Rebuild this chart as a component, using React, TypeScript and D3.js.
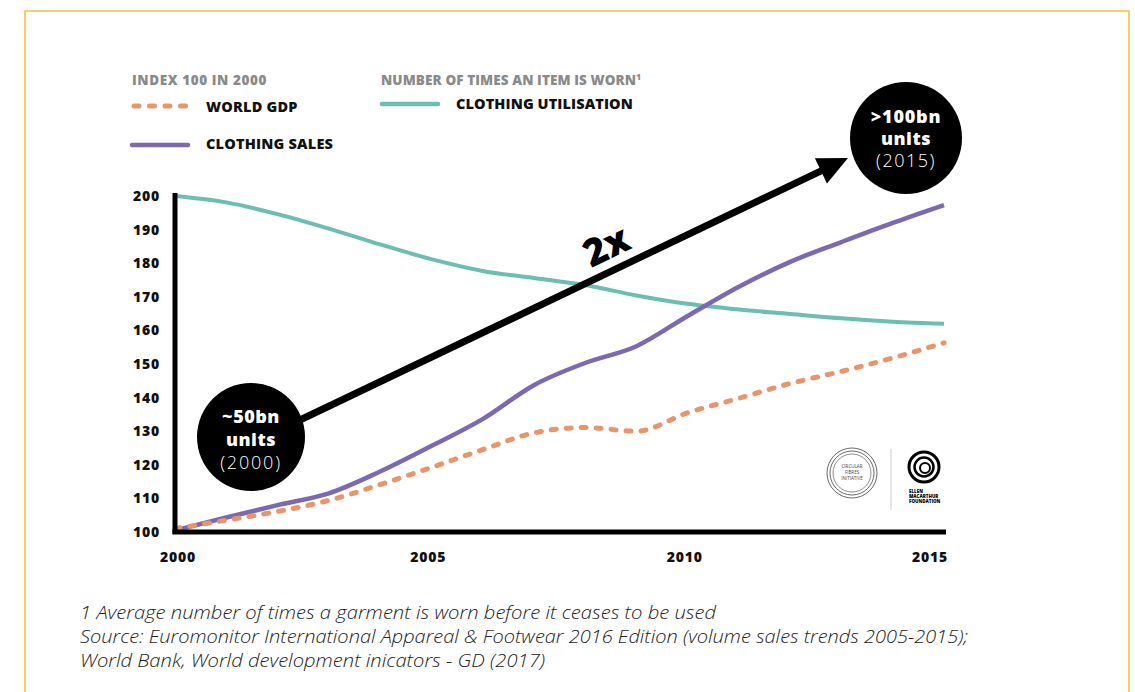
import React from "react";
import * as d3 from "d3";

const years = [2000, 2001, 2002, 2003, 2004, 2005, 2006, 2007, 2008, 2009, 2010, 2011, 2012, 2013, 2014, 2015];
const worldGdp = [101, 103.5, 106.1, 109.4, 114.1, 119.2, 124.5, 129.5, 131.1, 130, 135.5, 139.8, 144.2, 147.8, 151.8, 156.3];
const clothingSales = [100.5, 104.3, 108, 111.5, 118, 125.6, 133.6, 143.7, 150.3, 155.3, 164.3, 173, 180.4, 186.3, 192, 197.3];
const clothingUtilisation = [200, 198.1, 194.6, 190.3, 185.6, 181.2, 177.7, 175.6, 173.5, 170.4, 167.9, 166.2, 164.9, 163.6, 162.6, 162];
const yTicks = [100, 110, 120, 130, 140, 150, 160, 170, 180, 190, 200];
const xTicks = [2000, 2005, 2010, 2015];
const footnotes = [
  "1 Average number of times a garment is worn before it ceases to be used",
  "Source: Euromonitor International Appareal & Footwear 2016 Edition (volume sales trends 2005-2015);",
  "World Bank, World development inicators - GD (2017)",
];
const footnoteWidths = [636, 888, 465];

const ORANGE = "#e9956a";
const PURPLE = "#7b69b1";
const TEAL = "#6cbdb2";
const GOLD = "#f2c43e";
const FONT = "'Open Sans', 'DejaVu Sans', sans-serif";

export default function App() {
  const x = d3.scaleLinear().domain([2000, 2015]).range([175, 944]);
  const y = d3.scaleLinear().domain([100, 200]).range([532, 196]);
  const mk = (vals: number[]) =>
    d3
      .line<number>()
      .x((_, i) => x(years[i]))
      .y((d) => y(d))
      .curve(d3.curveMonotoneX)(vals) || "";

  const ax1 = { x: 300, y: 420 };
  const ax2 = { x: 832, y: 166 };
  const ang = Math.atan2(ax2.y - ax1.y, ax2.x - ax1.x);
  const tip = { x: 848, y: 158 };
  const headLen = 30;
  const headW = 14;
  const bx = tip.x - headLen * Math.cos(ang);
  const by = tip.y - headLen * Math.sin(ang);
  const px = -Math.sin(ang) * headW;
  const py = Math.cos(ang) * headW;

  return (
    <svg
      width={1135}
      height={692}
      style={{ position: "absolute", left: 0, top: 0, background: "#fff" }}
      fontFamily={FONT}
    >
      {/* frame */}
      <path d="M25,692 L25,11 L1129,11 L1129,692" fill="none" stroke={GOLD} strokeWidth={1.6} />

      {/* legend */}
      <text x={132} y={85} fontSize={13.5} fontWeight={800} fill="#8a8a8a" letterSpacing={0.6}>INDEX 100 IN 2000</text>
      <text x={381} y={85} fontSize={13.5} fontWeight={800} fill="#8a8a8a" letterSpacing={0.1}>
        NUMBER OF TIMES AN ITEM IS WORN<tspan fontSize={8} dy={-5}>1</tspan>
      </text>
      <line x1={134} x2={186} y1={106} y2={106} stroke={ORANGE} strokeWidth={5} strokeLinecap="round" strokeDasharray="5 10.5" />
      <text x={206} y={112} fontSize={14.5} fontWeight={800} fill="#111" letterSpacing={0.2}>WORLD GDP</text>
      <line x1={132} x2={188} y1={145} y2={145} stroke={PURPLE} strokeWidth={4.5} strokeLinecap="round" />
      <text x={206} y={149} fontSize={14.5} fontWeight={800} fill="#111" letterSpacing={0.2}>CLOTHING SALES</text>
      <line x1={382} x2={438} y1={104} y2={104} stroke={TEAL} strokeWidth={4.5} strokeLinecap="round" />
      <text x={456} y={109} fontSize={14.5} fontWeight={800} fill="#111" letterSpacing={0.1}>CLOTHING UTILISATION</text>

      {/* y ticks */}
      {yTicks.map((t) => (
        <text key={t} x={160} y={y(t) + 5} fontSize={14} fontWeight={800} textAnchor="end" fill="#111" letterSpacing={0.8}>
          {t}
        </text>
      ))}
      {/* x ticks */}
      {xTicks.map((t, i) => (
        <text
          key={t}
          x={x(t) + (i === 0 ? 3 : i === xTicks.length - 1 ? -14 : -3)}
          y={562}
          fontSize={14}
          fontWeight={800}
          textAnchor="middle"
          fill="#111"
          letterSpacing={0.8}
        >
          {t}
        </text>
      ))}

      {/* series */}
      <path d={mk(clothingUtilisation)} fill="none" stroke={TEAL} strokeWidth={4} strokeLinejoin="round" />
      <path d={mk(clothingSales)} fill="none" stroke={PURPLE} strokeWidth={4.5} strokeLinejoin="round" />
      <path d={mk(worldGdp)} fill="none" stroke={ORANGE} strokeWidth={5} strokeLinecap="round" strokeDasharray="5 10" />

      {/* axes */}
      <line x1={175} x2={175} y1={193} y2={534} stroke="#000" strokeWidth={5} />
      <line x1={172.5} x2={946} y1={532} y2={532} stroke="#000" strokeWidth={5} />

      {/* arrow */}
      <line x1={ax1.x} y1={ax1.y} x2={bx + 2 * Math.cos(ang)} y2={by + 2 * Math.sin(ang)} stroke="#000" strokeWidth={7} />
      <polygon points={`${tip.x},${tip.y} ${bx + px},${by + py} ${bx - px},${by - py}`} fill="#000" />
      <text
        x={0}
        y={0}
        transform={`translate(612,258) rotate(${(ang * 180) / Math.PI})`}
        fontSize={38}
        fontWeight={800}
        textAnchor="middle"
        fill="#000"
      >
        2x
      </text>

      {/* bubbles */}
      <circle cx={251} cy={437} r={54} fill="#000" />
      <text x={251} y={423} fontSize={18} fontWeight={800} fill="#fff" textAnchor="middle" letterSpacing={0.5}>~50bn</text>
      <text x={251} y={446} fontSize={18} fontWeight={800} fill="#fff" textAnchor="middle" letterSpacing={0.5}>units</text>
      <text x={251} y={469} fontSize={18} fontWeight={300} fill="#fff" textAnchor="middle" letterSpacing={1.8}>(2000)</text>

      <circle cx={906} cy={138} r={56} fill="#000" />
      <text x={906} y={123} fontSize={18} fontWeight={800} fill="#fff" textAnchor="middle" letterSpacing={0.8}>&gt;100bn</text>
      <text x={906} y={145} fontSize={18} fontWeight={800} fill="#fff" textAnchor="middle" letterSpacing={0.5}>units</text>
      <text x={906} y={167} fontSize={18} fontWeight={300} fill="#fff" textAnchor="middle" letterSpacing={1.5}>(2015)</text>

      {/* logos */}
      <g fill="none" stroke="#444">
        <circle cx={852} cy={473} r={25} strokeWidth={0.8} />
        <circle cx={852} cy={473} r={22} strokeWidth={0.8} />
        <circle cx={852} cy={473} r={19} strokeWidth={0.6} />
      </g>
      <text x={852} y={468} fontSize={4.5} textAnchor="middle" fill="#444">CIRCULAR</text>
      <text x={852} y={474} fontSize={4.5} textAnchor="middle" fill="#444">FIBRES</text>
      <text x={852} y={480} fontSize={4.5} textAnchor="middle" fill="#444">INITIATIVE</text>
      <line x1={891} x2={891} y1={449} y2={510} stroke="#ccc" strokeWidth={1} />
      <g fill="none" stroke="#000">
        <circle cx={924} cy={467} r={15} strokeWidth={3} />
        <circle cx={924} cy={467} r={9.5} strokeWidth={2.5} />
        <circle cx={925} cy={468} r={5} strokeWidth={2} />
      </g>
      <text x={909} y={493} fontSize={4.5} fontWeight={800} fill="#000">ELLEN</text>
      <text x={909} y={498} fontSize={4.5} fontWeight={800} fill="#000">MACARTHUR</text>
      <text x={909} y={503} fontSize={4.5} fontWeight={800} fill="#000">FOUNDATION</text>

      {/* footnotes */}
      {footnotes.map((f, i) => (
        <text
          key={i}
          x={80}
          y={619 + i * 24}
          fontSize={17.5}
          fontStyle="italic"
          fontWeight={300}
          fill="#222"
          fontFamily="'Open Sans', 'Roboto', sans-serif"
          textLength={footnoteWidths[i]}
          lengthAdjust="spacingAndGlyphs"
        >
          {f}
        </text>
      ))}
    </svg>
  );
}
